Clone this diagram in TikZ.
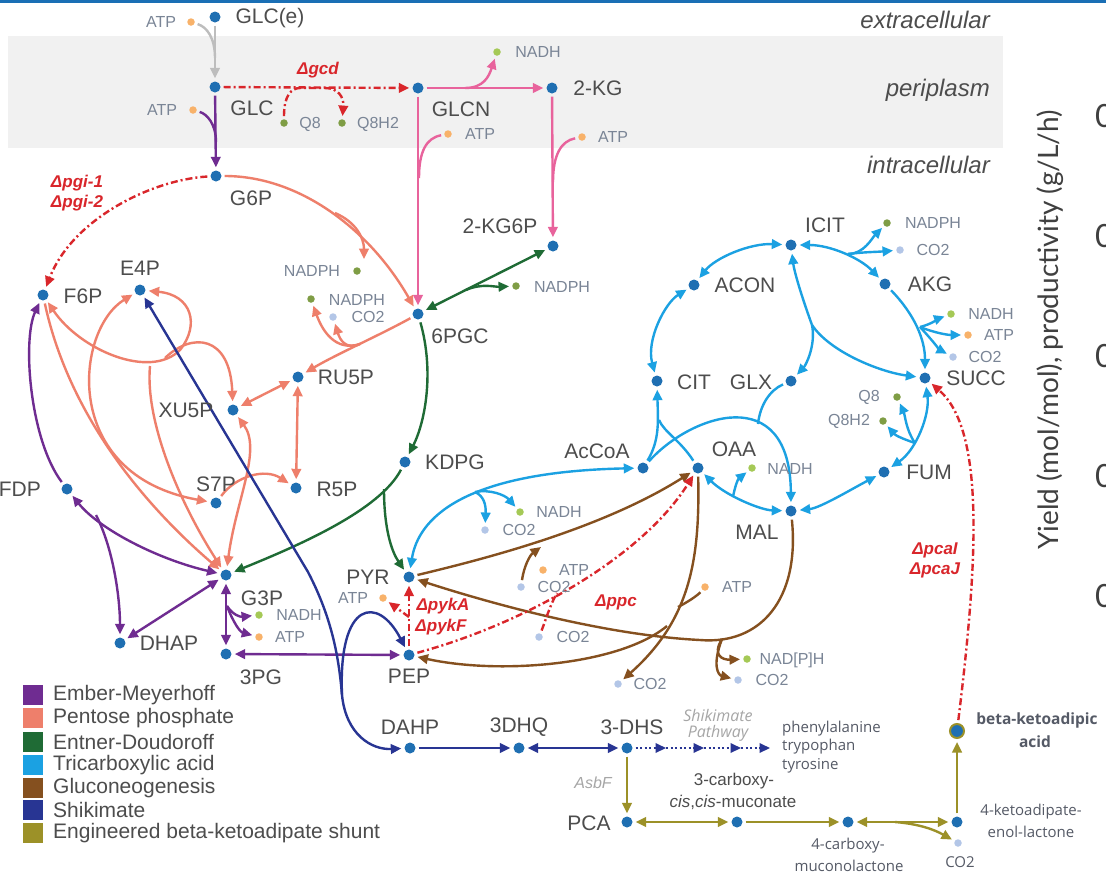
\documentclass[tikz,border=0pt]{standalone}
\usepackage{fontspec}
\setmainfont{Liberation Sans}
\newfontfamily\osans{Open Sans}
\newfontfamily\lato{Lato}
\usetikzlibrary{arrows.meta}
\newcommand{\myfs}[1]{\fontsize{#1}{#1}\selectfont}
\definecolor{mblue}{HTML}{1F6FB2}
\definecolor{labgray}{HTML}{4D4D4D}
\definecolor{cofgray}{HTML}{7A8596}
\definecolor{catp}{HTML}{F8B26A}
\definecolor{cnadh}{HTML}{A5C956}
\definecolor{cnadph}{HTML}{7F9D45}
\definecolor{cco2}{HTML}{B3C6E7}
\definecolor{delred}{HTML}{D9262B}
\definecolor{pinkc}{HTML}{E8639C}
\definecolor{emp}{HTML}{6F2C91}
\definecolor{ppp}{HTML}{EE7F6B}
\definecolor{edc}{HTML}{1F6B35}
\definecolor{tca}{HTML}{1BA1E2}
\definecolor{gng}{HTML}{85501F}
\definecolor{shk}{HTML}{283593}
\definecolor{eng}{HTML}{9C9128}
\definecolor{glcgray}{HTML}{BDBDBD}
\definecolor{bandgray}{HTML}{F1F1F1}
\definecolor{topblue}{HTML}{1A6FB5}
\definecolor{txtdark}{HTML}{555A66}
\pgfdeclarelayer{back}
\pgfdeclarelayer{mid}
\pgfsetlayers{back,mid,main}
\tikzset{
 mdot/.style={circle,fill=mblue,inner sep=0pt,minimum size=11pt},
 cdot/.style={circle,fill=#1,inner sep=0pt,minimum size=7.5pt},
 mlab/.style={text=labgray,font=\myfs{21},inner sep=0pt},
 clab/.style={text=cofgray,font=\myfs{16},inner sep=0pt},
 dlab/.style={text=delred,font=\myfs{17}\bfseries\itshape,inner sep=0pt},
 rlab/.style={text=labgray,font=\myfs{24}\itshape,inner sep=0pt,anchor=east},
 btxt/.style={text=txtdark,font=\osans\myfs{15},inner sep=0pt},
 lgsq/.style={fill=#1,inner sep=0pt,minimum size=20pt},
 lgtxt/.style={text=labgray,font=\myfs{21},inner sep=0pt,anchor=west},
 zero/.style={anchor=west,text=black!75,font=\lato\myfs{32},inner sep=0pt},
 ln/.style={line width=2.4pt,draw=#1,shorten <=3pt,shorten >=3pt},
 rx/.style={ln=#1,-{Triangle[length=10.5pt,width=9.5pt]}},
 rxx/.style={ln=#1,{Triangle[length=10.5pt,width=9.5pt]}-{Triangle[length=10.5pt,width=9.5pt]}},
 fromj/.style={shorten <=0pt},
 toj/.style={shorten >=0pt},
 deln/.style={line width=2.4pt,draw=delred,dash pattern=on 7pt off 3pt on 2pt off 3pt,shorten <=3pt,shorten >=3pt},
 del/.style={deln,-{Triangle[length=10.5pt,width=9.5pt]}},
 shkd/.style={line width=2pt,draw=shk,dash pattern=on 2pt off 2.5pt,-{Triangle[length=10.5pt,width=9.5pt]}}
}
\begin{document}
\begin{tikzpicture}[x=1pt,y=1pt]
\useasboundingbox (0,0) rectangle (1106,-873);
\begin{pgfonlayer}{back}
\fill[white] (0,0) rectangle (1106,-873);
\fill[topblue] (0,0) rectangle (1106,-2.5);
\fill[bandgray] (8,-36) rectangle (1003,-148);
\end{pgfonlayer}

% region labels
\node[rlab] (rext) at (990,-20) {extracellular};
\node[rlab] (rperi) at (990,-90) {periplasm};
\node[rlab] (rintra) at (990,-165) {intracellular};

% right axis fragment
\node[rotate=90,text=black!75,font=\lato\myfs{28},inner sep=0pt] (ylab) at (1050,-330) {Yield (mol/mol), productivity (g/L/h)};
\node[zero] (z1) at (1095,-116) {0};
\node[zero] (z2) at (1095,-236) {0};
\node[zero] (z3) at (1095,-356) {0};
\node[zero] (z4) at (1095,-476) {0};
\node[zero] (z5) at (1095,-596) {0};

% main metabolites
\node[mdot] (glce) at (215,-17) {};
\node[mdot] (glc) at (215,-87) {};
\node[mdot] (g6p) at (216,-176) {};
\node[mdot] (glcn) at (418,-88) {};
\node[mdot] (kg) at (552,-88) {};
\node[mdot] (kg6p) at (553,-246) {};
\node[mdot] (pgc) at (418,-314) {};
\node[mdot] (f6p) at (43,-295) {};
\node[mdot] (e4p) at (140,-290) {};
\node[mdot] (ru5p) at (298,-377) {};
\node[mdot] (xu5p) at (233,-410) {};
\node[mdot] (s7p) at (216,-503) {};
\node[mdot] (r5p) at (296,-488) {};
\node[mdot] (fdp) at (67,-489) {};
\node[mdot] (g3p) at (226,-575) {};
\node[mdot] (dhap) at (120,-643) {};
\node[mdot] (pg3) at (226,-654) {};
\node[mdot] (kdpg) at (405,-462) {};
\node[mdot] (pyr) at (409,-577) {};
\node[mdot] (pep) at (409,-655) {};
\node[mdot] (accoa) at (643,-468) {};
\node[mdot] (oaa) at (698,-468) {};
\node[mdot] (mal) at (791,-511) {};
\node[mdot] (cit) at (657,-381) {};
\node[mdot] (glx) at (791,-381) {};
\node[mdot] (acon) at (694,-285) {};
\node[mdot] (icit) at (791,-245) {};
\node[mdot] (akg) at (885,-284) {};
\node[mdot] (succ) at (925,-378) {};
\node[mdot] (fum) at (884,-472) {};
\node[mdot] (dahp) at (410,-748) {};
\node[mdot] (dhq) at (519,-748) {};
\node[mdot] (dhs) at (627,-748) {};
\node[mdot] (pca) at (627,-822) {};
\node[mdot] (ccm) at (737,-822) {};
\node[mdot] (cml) at (848,-822) {};
\node[mdot] (kel) at (957,-822) {};
\node[circle,fill=mblue,draw=eng,line width=2pt,inner sep=0pt,minimum size=14pt] (bka) at (957,-731) {};

% main labels
\node[mlab] (glce-l) at (270,-18) {GLC(e)};
\node[mlab] (glc-l) at (252,-108) {GLC};
\node[mlab] (g6p-l) at (251,-198) {G6P};
\node[mlab] (glcn-l) at (461,-109) {GLCN};
\node[mlab] (kg-l) at (598,-88) {2-KG};
\node[mlab] (kg6p-l) at (500,-226) {2-KG6P};
\node[mlab] (pgc-l) at (460,-336) {6PGC};
\node[mlab] (f6p-l) at (83,-296) {F6P};
\node[mlab] (e4p-l) at (140,-268) {E4P};
\node[mlab] (ru5p-l) at (346,-377) {RU5P};
\node[mlab] (xu5p-l) at (186,-410) {XU5P};
\node[mlab] (s7p-l) at (216,-484) {S7P};
\node[mlab] (r5p-l) at (337,-489) {R5P};
\node[mlab,anchor=east] (fdp-l) at (41,-489) {FDP};
\node[mlab] (kdpg-l) at (455,-462) {KDPG};
\node[mlab] (g3p-l) at (262,-598) {G3P};
\node[mlab] (dhap-l) at (169,-643) {DHAP};
\node[mlab] (pg3-l) at (261,-677) {3PG};
\node[mlab] (pyr-l) at (368,-577) {PYR};
\node[mlab] (pep-l) at (409,-676) {PEP};
\node[mlab] (accoa-l) at (597,-451) {AcCoA};
\node[mlab] (oaa-l) at (734,-449) {OAA};
\node[mlab] (mal-l) at (757,-532) {MAL};
\node[mlab] (cit-l) at (694,-382) {CIT};
\node[mlab] (glx-l) at (751,-382) {GLX};
\node[mlab] (acon-l) at (745,-285) {ACON};
\node[mlab] (icit-l) at (825,-225) {ICIT};
\node[mlab] (akg-l) at (930,-284) {AKG};
\node[mlab] (succ-l) at (976,-378) {SUCC};
\node[mlab] (fum-l) at (929,-472) {FUM};
\node[mlab] (dahp-l) at (410,-727) {DAHP};
\node[mlab] (dhq-l) at (519,-727) {3DHQ};
\node[mlab] (dhs-l) at (632,-727) {3-DHS};
\node[mlab] (pca-l) at (589,-823) {PCA};

% cofactors
\node[cdot=catp] (atp1) at (191,-22) {};
\node[clab] (atp1-l) at (161,-22) {ATP};
\node[cdot=catp] (atp2) at (193,-110) {};
\node[clab] (atp2-l) at (162,-110) {ATP};
\node[cdot=cnadph] (q8a) at (284,-123) {};
\node[clab] (q8a-l) at (310,-124) {Q8};
\node[cdot=cnadph] (q8h2a) at (342,-123) {};
\node[clab] (q8h2a-l) at (378,-124) {Q8H2};
\node[cdot=cnadh] (nadh1) at (497,-52) {};
\node[clab] (nadh1-l) at (538,-52) {NADH};
\node[cdot=catp] (atp3) at (448,-134) {};
\node[clab] (atp3-l) at (480,-134) {ATP};
\node[cdot=catp] (atp4) at (582,-137) {};
\node[clab] (atp4-l) at (613,-137) {ATP};
\node[cdot=cnadph] (nadph1) at (357,-271) {};
\node[clab] (nadph1-l) at (312,-271) {NADPH};
\node[cdot=cnadph] (nadph2) at (311,-299) {};
\node[clab] (nadph2-l) at (357,-300) {NADPH};
\node[cdot=cco2] (co2a) at (333,-317) {};
\node[clab] (co2a-l) at (368,-317) {CO2};
\node[cdot=cnadph] (nadph3) at (516,-286) {};
\node[clab] (nadph3-l) at (562,-287) {NADPH};
\node[cdot=cnadph] (nadphi) at (887,-223) {};
\node[clab] (nadphi-l) at (933,-223) {NADPH};
\node[cdot=cco2] (co2i) at (900,-250) {};
\node[clab] (co2i-l) at (933,-250) {CO2};
\node[cdot=cnadh] (nadha) at (951,-314) {};
\node[clab] (nadha-l) at (991,-314) {NADH};
\node[cdot=catp] (atpa) at (968,-335) {};
\node[clab] (atpa-l) at (999,-335) {ATP};
\node[cdot=cco2] (co2b) at (953,-357) {};
\node[clab] (co2b-l) at (985,-357) {CO2};
\node[cdot=cnadph] (q8b) at (897,-397) {};
\node[clab] (q8b-l) at (869,-397) {Q8};
\node[cdot=cnadph] (q8h2b) at (883,-421) {};
\node[clab] (q8h2b-l) at (849,-421) {Q8H2};
\node[cdot=cnadh] (nadho) at (752,-468) {};
\node[clab] (nadho-l) at (790,-469) {NADH};
\node[cdot=cnadh] (nadhp) at (520,-512) {};
\node[clab] (nadhp-l) at (559,-512) {NADH};
\node[cdot=cco2] (co2p) at (485,-530) {};
\node[clab] (co2p-l) at (519,-530) {CO2};
\node[cdot=catp] (atpn) at (543,-570) {};
\node[clab] (atpn-l) at (574,-570) {ATP};
\node[cdot=cco2] (co2n) at (521,-587) {};
\node[clab] (co2n-l) at (554,-587) {CO2};
\node[cdot=catp] (atpo) at (705,-587) {};
\node[clab] (atpo-l) at (737,-587) {ATP};
\node[cdot=cco2] (co2p2) at (539,-637) {};
\node[clab] (co2p2-l) at (573,-637) {CO2};
\node[cdot=cnadh] (nadpm) at (747,-659) {};
\node[clab] (nadpm-l) at (792,-660) {NAD[P]H};
\node[cdot=cco2] (co2m) at (738,-680) {};
\node[clab] (co2m-l) at (772,-680) {CO2};
\node[cdot=cco2] (co2o) at (618,-684) {};
\node[clab] (co2o-l) at (650,-684) {CO2};
\node[cdot=catp] (atpp) at (383,-598) {};
\node[clab] (atpp-l) at (353,-598) {ATP};
\node[cdot=cnadh] (nadhg3) at (259,-615) {};
\node[clab] (nadhg3-l) at (299,-615) {NADH};
\node[cdot=catp] (atpg3) at (259,-637) {};
\node[clab] (atpg3-l) at (290,-637) {ATP};
\node[cdot=cco2] (co2k) at (958,-843) {};
\node[btxt] (co2k-l) at (960,-862) {CO2};

% deletion labels
\node[dlab] (dgcd) at (318,-70) {Δgcd};
\node[dlab] (dpgi1) at (77,-183) {Δpgi-1};
\node[dlab] (dpgi2) at (77,-203) {Δpgi-2};
\node[dlab] (dpyka) at (443,-606) {ΔpykA};
\node[dlab] (dpykf) at (441,-627) {ΔpykF};
\node[dlab] (dppc) at (616,-602) {Δppc};
\node[dlab] (dpcai) at (935,-550) {ΔpcaI};
\node[dlab] (dpcaj) at (935,-570) {ΔpcaJ};

% bottom texts
\node[text=black!35,font=\osans\myfs{16}\itshape,inner sep=0pt] (shik1) at (718,-715) {Shikimate};
\node[text=black!35,font=\osans\myfs{16}\itshape,inner sep=0pt] (shik2) at (718,-733) {Pathway};
\node[btxt,anchor=west] (aa1) at (782,-729) {phenylalanine};
\node[btxt,anchor=west] (aa2) at (782,-747) {trypophan};
\node[btxt,anchor=west] (aa3) at (782,-766) {tyrosine};
\node[text=black!35,font=\myfs{16}\itshape,inner sep=0pt] (asbf) at (593,-783) {AsbF};
\node[text=labgray,font=\myfs{17},inner sep=0pt] (ccm-l1) at (734,-781) {3-carboxy-};
\node[text=labgray,font=\myfs{17},inner sep=0pt] (ccm-l2) at (733,-802) {{\itshape cis},{\itshape cis}-muconate};
\node[btxt] (cml-l1) at (848,-846) {4-carboxy-};
\node[btxt] (cml-l2) at (849,-866) {muconolactone};
\node[btxt] (kel-l1) at (1031,-812) {4-ketoadipate-};
\node[btxt] (kel-l2) at (1031,-832) {enol-lactone};
\node[btxt,font=\osans\myfs{15.5}\bfseries] (bka-l1) at (1037,-720) {beta-ketoadipic};
\node[btxt,font=\osans\myfs{15.5}\bfseries] (bka-l2) at (1035,-742) {acid};

% legend
\node[lgsq=emp] (lg1) at (33,-695) {};
\node[lgsq=ppp] (lg2) at (33,-718) {};
\node[lgsq=edc] (lg3) at (33,-742) {};
\node[lgsq=tca] (lg4) at (33,-765) {};
\node[lgsq=gng] (lg5) at (33,-788) {};
\node[lgsq=shk] (lg6) at (33,-810) {};
\node[lgsq=eng] (lg7) at (33,-833) {};
\node[lgtxt] (lt1) at (53,-695) {Ember-Meyerhoff};
\node[lgtxt] (lt2) at (53,-718) {Pentose phosphate};
\node[lgtxt] (lt3) at (53,-742) {Entner-Doudoroff};
\node[lgtxt] (lt4) at (53,-765) {Tricarboxylic acid};
\node[lgtxt] (lt5) at (53,-788) {Gluconeogenesis};
\node[lgtxt] (lt6) at (53,-810) {Shikimate};
\node[lgtxt] (lt7) at (53,-833) {Engineered beta-ketoadipate shunt};

% junction coordinates
\coordinate (j1) at (215,-58);
\coordinate (j2) at (216,-142);
\coordinate (gq1) at (300,-88);
\coordinate (gq2) at (325,-88);
\coordinate (j3) at (465,-88);
\coordinate (j4) at (419,-178);
\coordinate (j5) at (553,-182);
\coordinate (j6) at (466,-290);
\coordinate (j7) at (335,-213);
\coordinate (nad1tip) at (364,-259);
\coordinate (j8) at (360,-344);
\coordinate (j9) at (165,-358);
\coordinate (lp) at (180,-350);
\coordinate (j10) at (150,-366);
\coordinate (j11) at (96,-515);
\coordinate (j12) at (227,-606);
\coordinate (j13) at (384,-489);
\coordinate (j14) at (475,-492);
\coordinate (j15) at (659,-420);
\coordinate (j16) at (758,-424);
\coordinate (j17) at (848,-254);
\coordinate (j18) at (920,-327);
\coordinate (j19) at (812,-325);
\coordinate (j20) at (915,-443);
\coordinate (j21) at (733,-497);
\coordinate (j22) at (541,-547);
\coordinate (j23) at (678,-607);
\coordinate (j24) at (667,-626);
\coordinate (gm1) at (700,-640);
\coordinate (j25) at (722,-639);
\coordinate (j26) at (409,-617);
\coordinate (j27) at (557,-593);
\coordinate (sj1) at (308,-572);
\coordinate (sj2) at (342,-695);
\coordinate (sd1) at (666,-748);
\coordinate (sd2) at (704,-748);
\coordinate (sd3) at (741,-748);
\coordinate (sd4) at (770,-748);
\coordinate (j30) at (895,-822);

\begin{pgfonlayer}{mid}
% transport / periplasm
\draw[rx=glcgray] (glce) -- (glc);
\draw[ln=glcgray,toj] (atp1) .. controls (207,-27) and (215,-38) .. (j1);
\draw[rx=emp] (glc) -- (g6p);
\draw[ln=emp,toj] (atp2) .. controls (207,-114) and (216,-124) .. (j2);
\draw[del] (glc) -- (glcn);
\draw[del] (q8a) .. controls (284,-96) and (291,-88) .. (gq1) -- (gq2) .. controls (338,-88) and (344,-97) .. (q8h2a);
\draw[rx=pinkc] (glcn) -- (kg);
\draw[rx=pinkc,fromj] (j3) .. controls (484,-88) and (489,-76) .. (nadh1);
\draw[rx=pinkc] (glcn) -- (pgc);
\draw[ln=pinkc,toj] (atp3) .. controls (426,-138) and (419,-152) .. (j4);
\draw[rx=pinkc] (kg) -- (kg6p);
\draw[ln=pinkc,toj] (atp4) .. controls (561,-141) and (553,-155) .. (j5);
% ED
\draw[rxx=edc] (pgc) -- (kg6p);
\draw[rx=edc,fromj] (j6) .. controls (482,-283) and (494,-287) .. (nadph3);
\draw[rx=edc] (pgc) .. controls (434,-370) and (426,-420) .. (kdpg);
\draw[rx=edc] (kdpg) .. controls (380,-510) and (300,-545) .. (g3p);
\draw[rx=edc,fromj] (j13) .. controls (384,-530) and (392,-552) .. (pyr);
% pgi / PPP
\draw[del] (g6p) .. controls (150,-180) and (72,-220) .. (f6p);
\draw[rx=ppp] (g6p) .. controls (300,-176) and (370,-230) .. (pgc);
\draw[rx=ppp,fromj,toj] (j7) .. controls (356,-222) and (364,-238) .. (nad1tip);
\draw[rx=ppp] (pgc) .. controls (380,-335) and (335,-355) .. (ru5p);
\draw[rx=ppp,fromj] (j8) .. controls (335,-352) and (322,-330) .. (nadph2);
\draw[rx=ppp,fromj] (j8) .. controls (346,-350) and (340,-340) .. (co2a);
\draw[rxx=ppp] (ru5p) -- (xu5p);
\draw[rxx=ppp] (ru5p) -- (r5p);
\draw[rxx=ppp] (f6p) .. controls (80,-350) and (150,-380) .. (lp) .. controls (200,-325) and (192,-295) .. (e4p);
\draw[rx=ppp,fromj] (j9) .. controls (192,-332) and (230,-335) .. (xu5p);
\draw[rxx=ppp] (e4p) .. controls (75,-330) and (60,-475) .. (s7p);
\draw[rx=ppp] (f6p) .. controls (70,-420) and (150,-510) .. (g3p);
\draw[rx=ppp,fromj] (j10) .. controls (145,-420) and (178,-500) .. (g3p);
\draw[rxx=ppp] (xu5p) .. controls (262,-450) and (236,-500) .. (g3p);
\draw[rx=ppp] (s7p) .. controls (236,-476) and (265,-468) .. (r5p);
% EMP
\draw[rx=emp] (fdp) .. controls (30,-440) and (22,-340) .. (f6p);
\draw[rxx=emp] (fdp) .. controls (100,-530) and (160,-560) .. (g3p);
\draw[rx=emp,fromj] (j11) .. controls (114,-550) and (120,-600) .. (dhap);
\draw[rxx=emp] (dhap) -- (g3p);
\draw[rxx=emp] (g3p) -- (pg3);
\draw[rx=emp,fromj] (j12) .. controls (233,-615) and (240,-617) .. (nadhg3);
\draw[rx=emp,fromj] (j12) .. controls (233,-622) and (240,-632) .. (atpg3);
\draw[rxx=emp] (pg3) -- (pep);
% TCA
\draw[rxx=tca] (pyr) .. controls (418,-520) and (460,-472) .. (accoa);
\draw[rx=tca,fromj] (j14) .. controls (490,-489) and (505,-495) .. (nadhp);
\draw[rx=tca,fromj] (j14) .. controls (484,-496) and (486,-505) .. (co2p);
\draw[rx=tca] (accoa) .. controls (660,-440) and (658,-420) .. (cit);
\draw[ln=tca,toj] (oaa) .. controls (680,-440) and (664,-432) .. (j15);
\draw[rx=tca] (accoa) .. controls (690,-415) and (790,-380) .. (mal);
\draw[ln=tca,toj] (glx) .. controls (770,-390) and (760,-405) .. (j16);
\draw[rxx=tca] (cit) .. controls (646,-340) and (665,-303) .. (acon);
\draw[rxx=tca] (acon) .. controls (715,-258) and (750,-243) .. (icit);
\draw[rxx=tca] (icit) .. controls (830,-245) and (860,-258) .. (akg);
\draw[rx=tca,fromj] (j17) .. controls (864,-254) and (872,-238) .. (nadphi);
\draw[rx=tca,fromj] (j17) .. controls (864,-252) and (876,-252) .. (co2i);
\draw[rx=tca] (akg) .. controls (915,-315) and (925,-340) .. (succ);
\draw[rx=tca,fromj] (j18) .. controls (932,-324) and (940,-318) .. (nadha);
\draw[rx=tca,fromj] (j18) .. controls (935,-333) and (948,-335) .. (atpa);
\draw[rx=tca,fromj] (j18) .. controls (932,-340) and (940,-350) .. (co2b);
\draw[rx=tca,fromj] (j19) .. controls (800,-292) and (794,-270) .. (icit);
\draw[rx=tca,fromj] (j19) .. controls (816,-345) and (806,-365) .. (glx);
\draw[rx=tca,fromj] (j19) .. controls (830,-352) and (880,-372) .. (succ);
\draw[rxx=tca] (succ) .. controls (930,-415) and (916,-450) .. (fum);
\draw[rx=tca,fromj] (j20) .. controls (906,-430) and (905,-415) .. (q8b);
\draw[rx=tca,fromj] (j20) .. controls (906,-440) and (896,-436) .. (q8h2b);
\draw[rxx=tca] (fum) .. controls (850,-490) and (820,-508) .. (mal);
\draw[rxx=tca] (oaa) .. controls (725,-495) and (760,-510) .. (mal);
\draw[rx=tca,fromj] (j21) .. controls (735,-486) and (738,-479) .. (nadho);
% gluconeogenesis
\draw[rx=gng] (pyr) .. controls (480,-560) and (600,-530) .. (oaa);
\draw[rx=gng,toj] (co2n) .. controls (524,-566) and (530,-555) .. (j22);
\draw[rx=gng] (oaa) .. controls (700,-560) and (690,-620) .. (co2o);
\draw[ln=gng,toj] (atpo) .. controls (697,-596) and (686,-603) .. (j23);
\draw[rx=gng,fromj] (j24) .. controls (620,-665) and (500,-675) .. (pep);
\draw[rx=gng] (mal) .. controls (800,-600) and (760,-645) .. (gm1) .. controls (600,-635) and (480,-600) .. (pyr);
\draw[rx=gng,fromj] (j25) .. controls (712,-655) and (722,-660) .. (nadpm);
\draw[rx=gng,fromj] (j25) .. controls (712,-665) and (718,-675) .. (co2m);
% deletions
\draw[del] (pep) -- (pyr);
\draw[del,fromj] (j26) -- (atpp);
\draw[del] (pep) .. controls (520,-625) and (640,-560) .. (oaa);
\draw[deln,toj] (co2p2) .. controls (545,-622) and (550,-605) .. (j27);
\draw[del] (bka) .. controls (978,-560) and (985,-430) .. (succ);
% shikimate
\draw[rxx=shk] (e4p) -- (sj1) .. controls (333,-620) and (339,-660) .. (sj2) .. controls (346,-735) and (372,-750) .. (dahp);
\draw[rx=shk,fromj] (sj2) .. controls (338,-600) and (378,-595) .. (pep);
\draw[rx=shk] (dahp) -- (dhq);
\draw[rxx=shk] (dhq) -- (dhs);
\draw[shkd,shorten <=3pt] (dhs) -- (sd1);
\draw[shkd] (sd1) -- (sd2);
\draw[shkd] (sd2) -- (sd3);
\draw[shkd] (sd3) -- (sd4);
% engineered shunt
\draw[rx=eng] (dhs) -- (pca);
\draw[rxx=eng] (pca) -- (ccm);
\draw[rx=eng] (ccm) -- (cml);
\draw[rxx=eng] (cml) -- (kel);
\draw[rx=eng,fromj] (j30) .. controls (920,-824) and (935,-830) .. (co2k);
\draw[rx=eng] (kel) -- (bka);
\end{pgfonlayer}
\end{tikzpicture}
\end{document}
